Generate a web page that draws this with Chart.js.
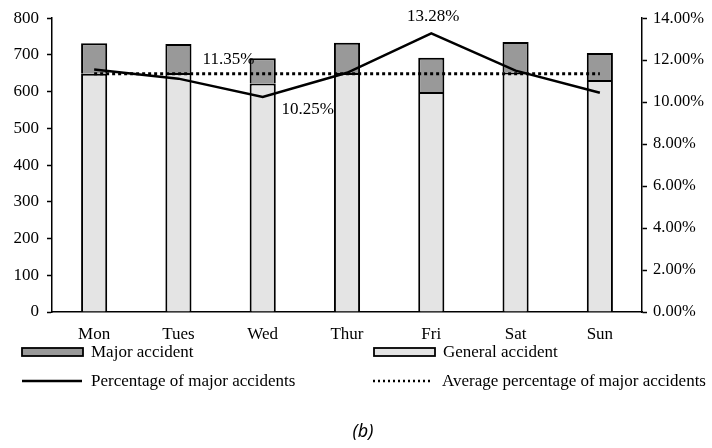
<!DOCTYPE html>
<html>
<head>
<meta charset="utf-8">
<script src="https://cdn.jsdelivr.net/npm/chart.js@4.4.1/dist/chart.umd.min.js"></script>
<style>
    html, body { margin: 0; padding: 0; background: #fff; }
    #wrap { width: 712px; height: 448px; }
</style>
</head>
<body>
<div id="wrap"><canvas id="chart" width="712" height="448"></canvas></div>
<script>
    // data
    const days = ["Mon", "Tues", "Wed", "Thur", "Fri", "Sat", "Sun"];
    const generalAccidents = [649, 651, 622, 651, 599, 652, 632];
    const majorAccidents = [83, 79, 69, 82, 93, 83, 73];
    const majorPercent = [11.55, 11.12, 10.25, 11.4, 13.28, 11.5, 10.45];
    const averagePercent = 11.35;
    const leftTicks = [0, 100, 200, 300, 400, 500, 600, 700, 800];
    const rightTicks = [0, 2, 4, 6, 8, 10, 12, 14];

    const FONT = "'Liberation Serif', 'Times New Roman', serif";
    const INK = "#000";

    var averageLine = days.map(() => averagePercent);

    // the value labels written on the chart
    var notes = [
        { text: averagePercent.toFixed(2) + "%", index: 1, value: averagePercent, dx: 50, dy: -14 },
        { text: majorPercent[2].toFixed(2) + "%", index: 2, value: majorPercent[2], dx: 45, dy: 13 },
        { text: majorPercent[4].toFixed(2) + "%", index: 4, value: majorPercent[4], dx: 2, dy: -17 }
    ];

    var legendItems = [
        { label: "Major accident", type: "box", fill: "#999999", x: 22, y: 352 },
        { label: "General accident", type: "box", fill: "#e4e4e4", x: 374, y: 352 },
        { label: "Percentage of major accidents", type: "line", dash: [], x: 22, y: 381 },
        { label: "Average percentage of major accidents", type: "line", dash: [2, 3], x: 373, y: 381 }
    ];

    var notesPlugin = {
        id: "notes",
        afterDatasetsDraw(chart) {
            var ctx = chart.ctx,
                xs = chart.scales.x,
                ys = chart.scales.y1;

            ctx.save();
            ctx.font = "17px " + FONT;
            ctx.fillStyle = INK;
            ctx.textAlign = "center";
            ctx.textBaseline = "middle";
            notes.forEach(n => {
                ctx.fillText(n.text, xs.getPixelForValue(n.index) + n.dx, ys.getPixelForValue(n.value) + n.dy);
            });
            ctx.restore();
        },
        afterDraw(chart) {
            var ctx = chart.ctx;

            ctx.save();
            ctx.font = "17px " + FONT;
            ctx.textBaseline = "middle";
            legendItems.forEach(item => {
                if (item.type === "box") {
                    ctx.fillStyle = item.fill;
                    ctx.fillRect(item.x, item.y - 4, 61, 8);
                    ctx.strokeStyle = INK;
                    ctx.lineWidth = 1.8;
                    ctx.strokeRect(item.x, item.y - 4, 61, 8);
                } else {
                    ctx.strokeStyle = INK;
                    ctx.lineWidth = 2.5;
                    ctx.setLineDash(item.dash);
                    ctx.beginPath();
                    ctx.moveTo(item.x, item.y);
                    ctx.lineTo(item.x + 60, item.y);
                    ctx.stroke();
                    ctx.setLineDash([]);
                }
                ctx.fillStyle = INK;
                ctx.textAlign = "left";
                ctx.fillText(item.label, item.x + 69, item.y + 1);
            });

            ctx.font = "italic 18px 'Noto Sans', sans-serif";
            ctx.textAlign = "center";
            ctx.fillText("(b)", 363, 432);
            ctx.restore();
        }
    };

    var axisGrid = {
        drawOnChartArea: false,
        drawTicks: true,
        tickLength: 5,
        tickWidth: 1.5,
        color: INK
    };

    new Chart(document.getElementById("chart"), {
        type: "bar",
        data: {
            labels: days,
            datasets: [{
                type: "line",
                label: "Percentage of major accidents",
                data: majorPercent,
                yAxisID: "y1",
                borderColor: INK,
                borderWidth: 2.5,
                pointRadius: 0,
                tension: 0,
                order: 0
            }, {
                type: "line",
                label: "Average percentage of major accidents",
                data: averageLine,
                yAxisID: "y1",
                borderColor: INK,
                borderWidth: 3,
                borderDash: [3, 3],
                pointRadius: 0,
                order: 0
            }, {
                label: "General accident",
                data: generalAccidents,
                backgroundColor: "#e4e4e4",
                borderColor: INK,
                borderWidth: 2,
                yAxisID: "y",
                order: 1
            }, {
                label: "Major accident",
                data: majorAccidents,
                backgroundColor: "#999999",
                borderColor: INK,
                borderWidth: 2,
                yAxisID: "y",
                order: 1
            }]
        },
        options: {
            responsive: false,
            animation: false,
            layout: { padding: { left: 0, right: 0, top: 16, bottom: 0 } },
            datasets: {
                bar: { categoryPercentage: 1, barPercentage: 0.31 }
            },
            plugins: {
                legend: { display: false },
                tooltip: { enabled: false }
            },
            scales: {
                x: {
                    stacked: true,
                    grid: { display: false },
                    border: { color: INK, width: 1.5 },
                    ticks: { color: INK, font: { family: FONT, size: 17 }, padding: 4 },
                    afterFit(scale) { scale.height = 136; }
                },
                y: {
                    stacked: true,
                    position: "left",
                    min: 0,
                    max: 800,
                    grid: axisGrid,
                    border: { color: INK, width: 1.5 },
                    ticks: { color: INK, font: { family: FONT, size: 17 }, padding: 8, stepSize: 100 },
                    afterBuildTicks(scale) { scale.ticks = leftTicks.map(v => ({ value: v })); },
                    afterFit(scale) { scale.width = 52; }
                },
                y1: {
                    position: "right",
                    min: 0,
                    max: 14,
                    grid: axisGrid,
                    border: { color: INK, width: 1.5 },
                    ticks: {
                        color: INK,
                        font: { family: FONT, size: 16.5 },
                        padding: 6,
                        callback: v => v.toFixed(2) + "%"
                    },
                    afterBuildTicks(scale) { scale.ticks = rightTicks.map(v => ({ value: v })); },
                    afterFit(scale) { scale.width = 70; }
                }
            }
        },
        plugins: [notesPlugin]
    });
</script>
</body>
</html>
